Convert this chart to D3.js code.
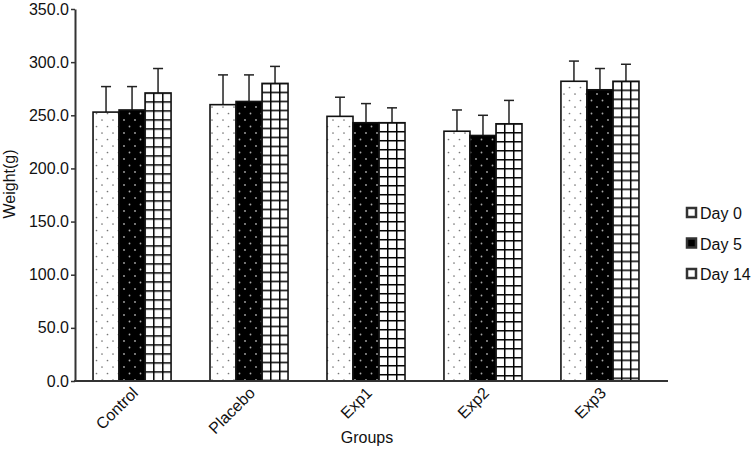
<!DOCTYPE html>
<html><head><meta charset="utf-8">
<script src="https://cdn.jsdelivr.net/npm/d3@7"></script>
<style>body{margin:0;background:#fff;} svg{display:block;font-family:Arial,"Liberation Sans",sans-serif;}</style>
</head><body>
<svg id="c" width="753" height="449"></svg>
<script>
const groups = ["Control","Placebo","Exp1","Exp2","Exp3"];
const seriesNames = ["Day 0","Day 5","Day 14"];
const day0 = [253, 260, 249, 235, 282];
const day5 = [255, 263, 243, 231, 274];
const day14 = [271, 280, 243, 242, 282];
const err0 = [24, 28, 18, 20, 19];
const err5 = [22, 25, 18, 19, 20];
const err14 = [23, 16, 14, 22, 16];
const yTicks = [0,50,100,150,200,250,300,350];

const values = [day0, day5, day14];
const errs = [err0, err5, err14];
const FONT = "Arial,'Liberation Sans',sans-serif";
const FS = 16;

const svg = d3.select("#c");
const x0 = 75, x1 = 668, yTop = 9, yBot = 381;
const x = d3.scaleBand().domain(groups).range([73.5, 658.5]).paddingInner(0.333).paddingOuter(0.167);
const xs = d3.scaleBand().domain(seriesNames).range([0, x.bandwidth()]);
const y = d3.scaleLinear().domain([0,350]).range([yBot, yTop]);

const defs = svg.append("defs");
// Day 0: white with gray dots
const p0 = defs.append("pattern").attr("id","p0").attr("patternUnits","userSpaceOnUse").attr("width",11).attr("height",13);
p0.append("rect").attr("width",11).attr("height",13).attr("fill","#fff");
p0.append("circle").attr("cx",3).attr("cy",3).attr("r",0.85).attr("fill","#777");
p0.append("circle").attr("cx",8.5).attr("cy",9.5).attr("r",0.85).attr("fill","#777");
// Day 5: black with light dots
const p1 = defs.append("pattern").attr("id","p1").attr("patternUnits","userSpaceOnUse").attr("width",11).attr("height",13);
p1.append("rect").attr("width",11).attr("height",13).attr("fill","#000");
p1.append("circle").attr("cx",3).attr("cy",3).attr("r",0.9).attr("fill","#aaa");
p1.append("circle").attr("cx",8.5).attr("cy",9.5).attr("r",0.9).attr("fill","#aaa");

// Day 14: grid patterns aligned to each bar
groups.forEach((grp, gi) => {
  const bx = x(grp) + xs("Day 14");
  const p2 = defs.append("pattern").attr("id","p2_"+gi).attr("patternUnits","userSpaceOnUse")
    .attr("x", bx - 1).attr("y", y(day14[gi]) - 0.75).attr("width",9).attr("height",9);
  p2.append("rect").attr("width",9).attr("height",9).attr("fill","#fff");
  p2.append("path").attr("d","M0,0.75H9M0.75,0V9").attr("stroke","#000").attr("stroke-width",1.5);
});

const fillFor = (si, gi) => si === 0 ? "url(#p0)" : si === 1 ? "url(#p1)" : "url(#p2_"+gi+")";

// bars
seriesNames.forEach((s, si) => {
  const g = svg.append("g");
  groups.forEach((grp, gi) => {
    const v = values[si][gi], e = errs[si][gi];
    const bx = x(grp) + xs(s), bw = xs.bandwidth();
    const cx = bx + bw/2;
    g.append("line").attr("x1",cx).attr("x2",cx).attr("y1",y(v)).attr("y2",y(v+e)).attr("stroke","#222").attr("stroke-width",1.5);
    g.append("line").attr("x1",cx-5).attr("x2",cx+5).attr("y1",y(v+e)).attr("y2",y(v+e)).attr("stroke","#222").attr("stroke-width",1.5);
    g.append("rect").attr("x",bx).attr("y",y(v)).attr("width",bw).attr("height",y(0)-y(v))
      .attr("fill",fillFor(si, gi)).attr("stroke","#111").attr("stroke-width",1.6);
  });
});

// y axis
const ya = svg.append("g").attr("transform",`translate(${x0},0)`)
  .call(d3.axisLeft(y).tickValues(yTicks).tickFormat(d3.format(".1f")).tickSize(4).tickSizeOuter(0));
ya.select(".domain").attr("stroke","#333").attr("stroke-width",2);
ya.selectAll(".tick line").attr("stroke","#333").attr("stroke-width",1.5);
ya.selectAll(".tick text").attr("font-size",FS).attr("fill","#111").attr("x",-6)
  .style("font-family",FONT);

// x axis
svg.append("line").attr("x1",x0-1).attr("x2",x1).attr("y1",yBot).attr("y2",yBot).attr("stroke","#333").attr("stroke-width",2);
const xa = svg.append("g").attr("transform",`translate(0,${yBot})`)
  .call(d3.axisBottom(x).tickSize(0).tickSizeOuter(0));
xa.select(".domain").remove();
xa.selectAll(".tick text").attr("font-size",FS).attr("fill","#111")
  .style("font-family",FONT)
  .attr("text-anchor","end").attr("dy",0).attr("y",0)
  .attr("transform","translate(7,13) rotate(-45)");

svg.append("text").attr("x",367).attr("y",443).attr("text-anchor","middle").attr("font-size",FS).attr("fill","#111").text("Groups");
svg.append("text").attr("transform","translate(15,184) rotate(-90)").attr("text-anchor","middle").attr("font-size",FS).attr("fill","#111").text("Weight(g)");

// legend
const leg = svg.append("g");
const legFills = ["#fff","#000","#fff"];
seriesNames.forEach((s, i) => {
  const ly = 213 + i*30.5;
  leg.append("rect").attr("x",687).attr("y",ly-5).attr("width",9).attr("height",9)
    .attr("fill",legFills[i]).attr("stroke","#333").attr("stroke-width",2.5);
  leg.append("text").attr("x",700).attr("y",ly+6).attr("font-size",FS).attr("fill","#111").text(s);
});
</script>
</body></html>
